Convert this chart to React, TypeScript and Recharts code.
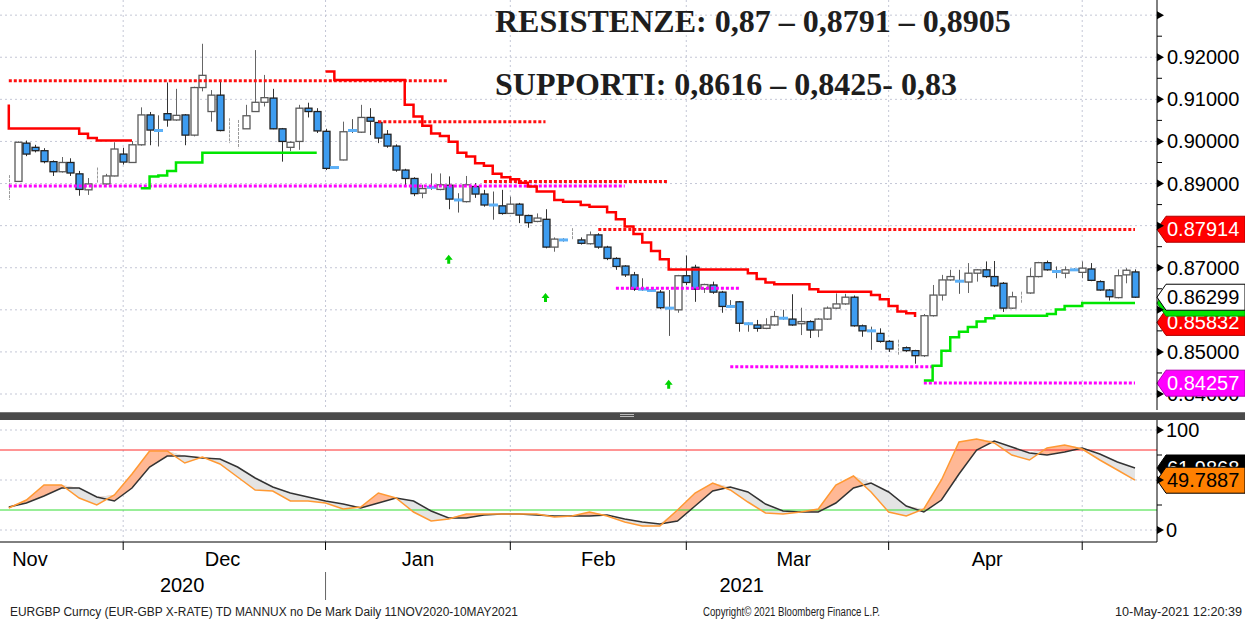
import React from 'react';
import {
  ComposedChart, Bar, Line, Area, Scatter, XAxis, YAxis,
  CartesianGrid, ReferenceLine,
} from 'recharts';

// EURGBP daily candles, one entry per trading day (index 0 = 11 Nov 2020)
const opens = [
  0.8893, 0.8905, 0.8996, 0.8986, 0.8978, 0.8952, 0.8928, 0.8950, 0.8923, 0.8885,
  0.8913, 0.8899, 0.8918, 0.8970, 0.8950, 0.8992, 0.9063, 0.9026, 0.9066, 0.9051,
  0.9063, 0.9015, 0.9128, 0.9071, 0.9110, 0.9030, 0.9020, 0.9030, 0.9071, 0.9093,
  0.9103, 0.9030, 0.8986, 0.9000, 0.9079, 0.9071, 0.9024, 0.8938, 0.8956, 0.9026,
  0.9022, 0.9057, 0.9045, 0.9017, 0.8989, 0.8932, 0.8912, 0.8877, 0.8891, 0.8886,
  0.8896, 0.8861, 0.8857, 0.8893, 0.8875, 0.8849, 0.8847, 0.8829, 0.8851, 0.8824,
  0.8810, 0.8815, 0.8749, 0.8766, 0.8768, 0.8766, 0.8757, 0.8778, 0.8749, 0.8722,
  0.8704, 0.8683, 0.8649, 0.8646, 0.8642, 0.8604, 0.8600, 0.8681, 0.8701, 0.8650,
  0.8659, 0.8642, 0.8608, 0.8619, 0.8567, 0.8564, 0.8556, 0.8564, 0.8580, 0.8578,
  0.8567, 0.8572, 0.8552, 0.8578, 0.8604, 0.8614, 0.8630, 0.8562, 0.8550, 0.8544,
  0.8525, 0.8510, 0.8510, 0.8503, 0.8491, 0.8586, 0.8635, 0.8671, 0.8668, 0.8666,
  0.8687, 0.8695, 0.8679, 0.8663, 0.8604, 0.8628, 0.8640, 0.8679, 0.8712, 0.8691,
  0.8687, 0.8695, 0.8689, 0.8697, 0.8667, 0.8647, 0.8629, 0.8683, 0.8690,
];
const highs = [
  0.8920, 0.9000, 0.9002, 0.8992, 0.8984, 0.8955, 0.8963, 0.8960, 0.8930, 0.8913,
  0.8938, 0.8923, 0.8998, 0.8985, 0.9001, 0.9081, 0.9070, 0.9062, 0.9140, 0.9125,
  0.9065, 0.9130, 0.9232, 0.9122, 0.9142, 0.9055, 0.9051, 0.9087, 0.9217, 0.9158,
  0.9125, 0.9032, 0.9000, 0.9087, 0.9092, 0.9079, 0.9030, 0.8940, 0.9047, 0.9053,
  0.9087, 0.9079, 0.9050, 0.9027, 0.8993, 0.8935, 0.8915, 0.8897, 0.8924, 0.8924,
  0.8917, 0.8877, 0.8918, 0.8901, 0.8885, 0.8881, 0.8885, 0.8869, 0.8854, 0.8826,
  0.8829, 0.8839, 0.8772, 0.8770, 0.8794, 0.8772, 0.8786, 0.8782, 0.8752, 0.8725,
  0.8706, 0.8690, 0.8675, 0.8654, 0.8647, 0.8647, 0.8683, 0.8729, 0.8707, 0.8662,
  0.8667, 0.8645, 0.8623, 0.8621, 0.8570, 0.8576, 0.8580, 0.8597, 0.8600, 0.8637,
  0.8605, 0.8575, 0.8580, 0.8608, 0.8639, 0.8638, 0.8634, 0.8565, 0.8560, 0.8556,
  0.8528, 0.8529, 0.8513, 0.8505, 0.8590, 0.8659, 0.8683, 0.8695, 0.8695, 0.8711,
  0.8697, 0.8715, 0.8716, 0.8666, 0.8643, 0.8643, 0.8699, 0.8714, 0.8717, 0.8703,
  0.8703, 0.8699, 0.8715, 0.8711, 0.8670, 0.8649, 0.8696, 0.8699, 0.8696,
];
const lows = [
  0.8861, 0.8905, 0.8965, 0.8974, 0.8948, 0.8918, 0.8926, 0.8918, 0.8871, 0.8873,
  0.8901, 0.8897, 0.8917, 0.8945, 0.8950, 0.8990, 0.8991, 0.8988, 0.9035, 0.9049,
  0.8991, 0.9012, 0.9119, 0.9047, 0.9024, 0.8996, 0.8984, 0.9030, 0.9071, 0.9083,
  0.9029, 0.8952, 0.8977, 0.8980, 0.9057, 0.9020, 0.8932, 0.8936, 0.8955, 0.9020,
  0.9020, 0.9015, 0.8996, 0.8985, 0.8928, 0.8894, 0.8870, 0.8865, 0.8885, 0.8884,
  0.8839, 0.8831, 0.8855, 0.8866, 0.8845, 0.8814, 0.8826, 0.8828, 0.8806, 0.8795,
  0.8808, 0.8746, 0.8738, 0.8762, 0.8766, 0.8755, 0.8755, 0.8745, 0.8718, 0.8695,
  0.8678, 0.8645, 0.8645, 0.8643, 0.8602, 0.8538, 0.8593, 0.8659, 0.8619, 0.8640,
  0.8638, 0.8593, 0.8605, 0.8548, 0.8548, 0.8548, 0.8554, 0.8562, 0.8576, 0.8562,
  0.8540, 0.8533, 0.8535, 0.8576, 0.8602, 0.8612, 0.8560, 0.8536, 0.8505, 0.8522,
  0.8500, 0.8493, 0.8500, 0.8472, 0.8488, 0.8584, 0.8622, 0.8669, 0.8638, 0.8640,
  0.8667, 0.8676, 0.8654, 0.8595, 0.8602, 0.8616, 0.8638, 0.8677, 0.8693, 0.8675,
  0.8675, 0.8693, 0.8675, 0.8668, 0.8645, 0.8622, 0.8627, 0.8663, 0.8628,
];
const closes = [
  0.8894, 0.8998, 0.8970, 0.8978, 0.8952, 0.8928, 0.8950, 0.8925, 0.8886, 0.8899,
  0.8914, 0.8918, 0.8982, 0.8951, 0.8992, 0.9063, 0.9027, 0.9026, 0.9051, 0.9062,
  0.9015, 0.9128, 0.9157, 0.9110, 0.9026, 0.9031, 0.9021, 0.9061, 0.9093, 0.9104,
  0.9030, 0.9000, 0.8998, 0.9079, 0.9071, 0.9025, 0.8936, 0.8938, 0.9023, 0.9026,
  0.9057, 0.9048, 0.9008, 0.8989, 0.8932, 0.8912, 0.8876, 0.8888, 0.8891, 0.8897,
  0.8863, 0.8861, 0.8897, 0.8875, 0.8849, 0.8849, 0.8829, 0.8851, 0.8825, 0.8807,
  0.8818, 0.8749, 0.8768, 0.8766, 0.8769, 0.8758, 0.8778, 0.8749, 0.8722, 0.8703,
  0.8683, 0.8649, 0.8649, 0.8646, 0.8605, 0.8604, 0.8681, 0.8665, 0.8649, 0.8660,
  0.8642, 0.8608, 0.8608, 0.8568, 0.8567, 0.8556, 0.8564, 0.8584, 0.8580, 0.8564,
  0.8572, 0.8552, 0.8578, 0.8604, 0.8614, 0.8630, 0.8562, 0.8550, 0.8550, 0.8525,
  0.8507, 0.8511, 0.8503, 0.8491, 0.8586, 0.8635, 0.8671, 0.8679, 0.8668, 0.8687,
  0.8695, 0.8679, 0.8657, 0.8604, 0.8631, 0.8629, 0.8679, 0.8712, 0.8695, 0.8691,
  0.8695, 0.8695, 0.8699, 0.8670, 0.8647, 0.8631, 0.8681, 0.8694, 0.8630,
];

// trailing stop lines: [day, level] change points, null breaks the line
const redSteps: [number, number | null][] = [
  [0, 0.9088], [0, 0.9031], [8, 0.9018], [9, 0.9008], [10, 0.9002], [14, 0.9002], [25, null],
  [36, 0.9166], [37, 0.9146], [45, 0.9087], [46, 0.9059], [47, 0.9037], [48, 0.9019],
  [49, 0.9013], [50, 0.8999], [51, 0.8973], [52, 0.8964], [53, 0.8948], [54, 0.8942],
  [55, 0.8923], [56, 0.8915], [57, 0.8910], [58, 0.8902], [59, 0.8893], [60, 0.8881],
  [62, 0.8861], [63, 0.8857], [65, 0.8849], [66, 0.8845], [68, 0.8832], [69, 0.8815],
  [70, 0.8798], [71, 0.8780], [72, 0.8760], [73, 0.8740], [74, 0.8720], [75, 0.8696],
  [84, 0.8687], [85, 0.8673], [86, 0.8665], [87, 0.8661], [91, 0.8649], [92, 0.8643],
  [98, 0.8635], [99, 0.8625], [100, 0.8609], [101, 0.8596], [102, 0.8592], [103, 0.8583],
];
const greenSteps: [number, number | null][] = [
  [15, 0.8889], [16, 0.8917], [17, 0.8919], [18, 0.8930], [19, 0.8950], [22, 0.8973],
  [35, 0.8973], [60, null],
  [104, 0.8432], [105, 0.8467], [106, 0.8503], [107, 0.8535], [108, 0.8548], [109, 0.8559],
  [110, 0.8572], [111, 0.8580], [112, 0.8586], [118, 0.8590], [119, 0.8601], [120, 0.8609],
  [122, 0.8616], [128, 0.8616],
];

// dotted levels: [fromDay, toDay, level]
const resistLevels = [[0, 50, 0.9144], [42, 61, 0.9047], [54, 75, 0.8905], [67, 128, 0.8791]];
const supportLevels = [[0, 70, 0.8894], [69, 83, 0.8651], [82, 105, 0.8465], [104, 128, 0.8426]];

// buy signal arrows [day, level]
const arrowPoints = [[50, 0.8719], [61, 0.8628], [75, 0.8422]];

// slow stochastic, read every second day
const stochDays = Array.from({ length: 65 }, (_, n) => n * 2);
const stochK = [
  22, 30, 45, 45, 32, 25, 35, 56, 79, 79, 67, 73, 66, 53, 40, 39, 29, 29, 27, 21,
  23, 37, 32, 18, 9, 11, 16, 16, 16, 16, 16, 13, 14, 18, 14, 8, 4, 4, 20, 37,
  47, 40, 28, 17, 16, 18, 21, 45, 54, 38, 18, 14, 21, 50, 88, 91, 87, 75, 70, 82,
  85, 81, 70, 60, 49.79,
];
const stochD = [
  23, 27, 34, 42, 42, 33, 29, 42, 63, 74, 74, 72, 71, 63, 52, 43, 37, 33, 29, 26,
  22, 27, 32, 29, 19, 12, 12, 15, 16, 16, 15, 14, 14, 14, 15, 11, 8, 6, 9, 24,
  39, 43, 38, 26, 19, 18, 18, 27, 42, 47, 38, 24, 18, 30, 56, 80, 89, 83, 77, 75,
  78, 82, 76, 68, 62,
];

const priceTicks = [
  0.84, 0.845, 0.85, 0.855, 0.86, 0.865, 0.87, 0.875, 0.88, 0.885,
  0.89, 0.895, 0.9, 0.905, 0.91, 0.915, 0.92, 0.925, 0.93,
];
const priceGrid = [0.84, 0.85, 0.86, 0.87, 0.88, 0.89, 0.9, 0.91, 0.92, 0.93];
const hiddenPriceLabels = [0.86, 0.88, 0.93];
const stochTicks = [0, 25, 50, 75, 100];
const stochLabels = [0, 100];

const monthTicks = [13, 36, 57, 77, 100, 122];
const monthNames = ['Nov', 'Dec', 'Jan', 'Feb', 'Mar', 'Apr'];
const monthLabelAt = [2.4, 24.3, 46.5, 67, 89.2, 111.2];
const yearNames = ['2020', '2021'];
const yearLabelAt = [19.7, 83.3];
const yearSplit = 36;

const X_DOMAIN: [number, number] = [-1, 130.5];
const GRID = '#c4c7d6';
const FONT = '"Liberation Sans", Arial, sans-serif';

const candleRows = opens.map((o, i) => ({ i, o, h: highs[i], l: lows[i], c: closes[i] }));
const redRows = redSteps.map(([i, v]) => ({ i, v }));
const greenRows = greenSteps.map(([i, v]) => ({ i, v }));
const arrowRows = arrowPoints.map(([i, v]) => ({ i, v }));
const stochRows = stochDays.map((i, n) => {
  const k = stochK[n];
  const d = stochD[n];
  return { i, k, d, above: [d, Math.max(k, d)], below: [k, Math.max(k, d)] };
});

function Candle(props: any) {
  const { x, y, width, height, payload } = props;
  const { o, h, l, c } = payload;
  const top = Math.min(y, y + height);
  const bot = Math.max(y, y + height);
  const span = h - l;
  const py = (v: number) => (span > 0 ? top + ((h - v) / span) * (bot - top) : top);
  const cx = Math.round(x + width / 2) + 0.5;
  if (o === c) {
    return (
      <g>
        <line x1={cx} x2={cx} y1={top} y2={bot} stroke="#555" />
        <rect x={cx - 4.5} y={py(o) - 1.5} width={9} height={3} fill="#5cb0f7" />
      </g>
    );
  }
  const bTop = py(Math.max(o, c));
  const bBot = py(Math.min(o, c));
  if (bBot - bTop < 1) {
    return <line x1={cx} x2={cx} y1={top} y2={bot} stroke="#999" strokeDasharray="3 1" />;
  }
  const up = c > o;
  return (
    <g>
      <line x1={cx} x2={cx} y1={top} y2={bot} stroke={up ? '#666' : '#333'} />
      <rect x={cx - 3.5} y={bTop} width={7} height={bBot - bTop}
        fill={up ? '#fff' : '#3d9cf0'} stroke={up ? '#5a5a5a' : '#222'} strokeWidth={1.3} />
    </g>
  );
}

function UpArrow({ cx, cy }: any) {
  return (
    <path d={`M${cx},${cy - 5}L${cx + 4},${cy}L${cx + 1.5},${cy}L${cx + 1.5},${cy + 4}L${cx - 1.5},${cy + 4}L${cx - 1.5},${cy}L${cx - 4},${cy}Z`}
      fill="#00d400" />
  );
}

function PriceTick({ x, y, payload }: any) {
  const v = payload.value as number;
  const major = Math.abs(v * 100 - Math.round(v * 100)) < 1e-6;
  if (!major) return <line x1={x} x2={x + 5} y1={y} y2={y} stroke="#000" />;
  const hidden = hiddenPriceLabels.some((h) => Math.abs(h - v) < 1e-6);
  // the lowest label sits under the magenta tag: only its lower edge shows
  const lowest = Math.abs(v - priceTicks[0]) < 1e-6;
  return (
    <g>
      {lowest && (
        <defs>
          <clipPath id="lowestPrice"><rect x={x} y={y + 2.5} width={90} height={20} /></clipPath>
        </defs>
      )}
      <path d={`M${x},${y - 4}L${x + 7},${y}L${x},${y + 4}Z`} fill="#000" />
      {!hidden && (
        <text x={x + 10} y={y + 7} fontSize={20} fill="#000" clipPath={lowest ? 'url(#lowestPrice)' : undefined}>
          {v.toFixed(5)}
        </text>
      )}
    </g>
  );
}

function StochTick({ x, y, payload }: any) {
  const v = payload.value as number;
  if (v % 50 !== 0) return <line x1={x} x2={x + 5} y1={y} y2={y} stroke="#000" />;
  return (
    <g>
      <path d={`M${x},${y - 4}L${x + 7},${y}L${x},${y + 4}Z`} fill="#000" />
      {stochLabels.includes(v) && <text x={x + 9} y={y + 7} fontSize={20} fill="#000">{v}</text>}
    </g>
  );
}

function DateTick({ x, y, payload }: any) {
  const v = payload.value as number;
  const m = monthLabelAt.indexOf(v);
  if (m >= 0) {
    return <text x={x} y={y + 24} textAnchor="middle" fontSize={20} fill="#000">{monthNames[m]}</text>;
  }
  const yr = yearLabelAt.indexOf(v);
  if (yr >= 0) {
    return <text x={x} y={y + 50} textAnchor="middle" fontSize={20} fill="#000">{yearNames[yr]}</text>;
  }
  return (
    <g>
      <line x1={x} x2={x} y1={y} y2={y + 8} stroke="#000" />
      {v === yearSplit && <line x1={x} x2={x} y1={y + 30} y2={y + 58} stroke="#666" />}
    </g>
  );
}

function tag(text: string, fill: string, color: string, stroke = 'none', dy = 0) {
  return (p: any) => {
    const vb = p.viewBox || {};
    const x = (vb.x ?? 0) + (vb.width ?? 0);
    const cy = (vb.y ?? 0) + (vb.height ?? 0) / 2 + dy;
    return (
      <g>
        <path d={`M${x},${cy}L${x + 9},${cy - 13}H${x + 88}V${cy + 13}H${x + 9}Z`} fill={fill} stroke={stroke} />
        {text && <text x={x + 10} y={cy + 7} fontSize={20} fill={color}>{text}</text>}
      </g>
    );
  };
}

export default function App() {
  const dateTicks = [...monthTicks, ...monthLabelAt, ...yearLabelAt].sort((a, b) => a - b);
  return (
    <div style={{ position: 'absolute', left: 0, top: 0, width: 1245, height: 623, background: '#fff', fontFamily: FONT, overflow: 'hidden' }}>
      <div style={{ position: 'absolute', left: 0, top: 0 }}>
        <ComposedChart width={1245} height={410} data={candleRows} margin={{ top: 0, right: 0, bottom: 0, left: 0 }}>
          <CartesianGrid horizontalValues={priceGrid} verticalValues={monthTicks} stroke={GRID} strokeDasharray="2 3" />
          <XAxis dataKey="i" type="number" domain={X_DOMAIN} hide allowDataOverflow />
          <YAxis orientation="right" width={88} type="number" domain={[0.8362, 0.9336]} allowDataOverflow
            ticks={priceTicks} interval={0} tickSize={0} tickMargin={0} tickLine={false}
            axisLine={{ stroke: '#000' }} tick={(p: any) => <PriceTick {...p} />} />
          <Bar dataKey={(d: any) => [d.l, d.h]} barSize={7} shape={(p: any) => <Candle {...p} />} isAnimationActive={false} />
          {resistLevels.map(([a, b, v], n) => (
            <ReferenceLine key={`r${n}`} segment={[{ x: a, y: v }, { x: b, y: v }]} stroke="#ff1010" strokeWidth={3} strokeDasharray="3 2" />
          ))}
          {supportLevels.map(([a, b, v], n) => (
            <ReferenceLine key={`s${n}`} segment={[{ x: a, y: v }, { x: b, y: v }]} stroke="#ff00ff" strokeWidth={3} strokeDasharray="3 2" />
          ))}
          <Line data={redRows} dataKey="v" type="stepAfter" stroke="#ff0000" strokeWidth={2.5} dot={false} activeDot={false} connectNulls={false} isAnimationActive={false} />
          <Line data={greenRows} dataKey="v" type="stepAfter" stroke="#00e600" strokeWidth={2.5} dot={false} activeDot={false} connectNulls={false} isAnimationActive={false} />
          <Scatter data={arrowRows} dataKey="v" shape={(p: any) => <UpArrow {...p} />} isAnimationActive={false} />
          <ReferenceLine y={0.87914} stroke="none" label={tag('0.87914', '#ff0000', '#fff', '#b00000')} />
          <ReferenceLine y={0.85832} stroke="none" label={tag('0.85832', '#ff0000', '#fff', '#b00000', 5.5)} />
          <ReferenceLine y={0.8616} stroke="none" label={tag('', '#00e600', '#000', '#00a000')} />
          <ReferenceLine y={0.86299} stroke="none" label={tag('0.86299', '#fff', '#000', '#000')} />
          <ReferenceLine y={0.84257} stroke="none" label={tag('0.84257', '#ff00ff', '#fff', '#b000b0')} />
        </ComposedChart>
      </div>

      <div style={{ position: 'absolute', left: 0, top: 412, width: 1245, height: 7, background: '#4a4a4a', borderTop: '1px solid #777' }} />
      <div style={{ position: 'absolute', left: 620, top: 414, width: 14, height: 1, background: '#bbb', boxShadow: '0 2px 0 #bbb' }} />

      <div style={{ position: 'absolute', left: 0, top: 420 }}>
        <ComposedChart width={1245} height={190} data={stochRows} margin={{ top: 0, right: 0, bottom: 0, left: 0 }}>
          <CartesianGrid horizontalValues={[0, 50, 100]} verticalValues={monthTicks} stroke={GRID} strokeDasharray="2 3" />
          <XAxis dataKey="i" type="number" domain={X_DOMAIN} allowDataOverflow height={68}
            ticks={dateTicks} interval={0} tickSize={0} tickMargin={0} tickLine={false}
            axisLine={{ stroke: '#000' }} tick={(p: any) => <DateTick {...p} />} />
          <YAxis orientation="right" width={88} type="number" domain={[-12, 110]} allowDataOverflow
            ticks={stochTicks} interval={0} tickSize={0} tickMargin={0} tickLine={false}
            axisLine={{ stroke: '#000' }} tick={(p: any) => <StochTick {...p} />} />
          <Area dataKey="above" type="linear" stroke="none" fill="#ffb08a" fillOpacity={0.9} isAnimationActive={false} />
          <Area dataKey="below" type="linear" stroke="none" fill="#e4e4e4" fillOpacity={1} isAnimationActive={false} />
          <ReferenceLine y={80} stroke="#ff2a2a" />
          <ReferenceLine y={20} stroke="#33dd33" />
          <Line dataKey="d" type="linear" stroke="#333" strokeWidth={1.5} dot={false} activeDot={false} isAnimationActive={false} />
          <Line dataKey="k" type="linear" stroke="#ff9933" strokeWidth={1.5} dot={false} activeDot={false} isAnimationActive={false} />
          <ReferenceLine y={62} stroke="none" label={tag('61.9868', '#000', '#fff', '#000')} />
          <ReferenceLine y={49.7887} stroke="none" label={tag('49.7887', '#ff8000', '#000', '#000')} />
        </ComposedChart>
      </div>

      <div style={{ position: 'absolute', left: 495, top: 5, font: 'bold 32px "Liberation Serif", "Times New Roman", serif', lineHeight: '32px', color: '#1e1e1e', whiteSpace: 'nowrap' }}>
        RESISTENZE: 0,87 – 0,8791 – 0,8905
      </div>
      <div style={{ position: 'absolute', left: 495, top: 68, font: 'bold 32px "Liberation Serif", "Times New Roman", serif', lineHeight: '32px', color: '#1e1e1e', whiteSpace: 'nowrap' }}>
        SUPPORTI: 0,8616 – 0,8425- 0,83
      </div>

      <svg width={1245} height={22} style={{ position: 'absolute', left: 0, top: 600 }}>
        <text x={10} y={16} fontSize={12} fill="#222" textLength={508} lengthAdjust="spacingAndGlyphs">
          EURGBP Curncy (EUR-GBP X-RATE) TD MANNUX no De Mark  Daily 11NOV2020-10MAY2021
        </text>
        <text x={703} y={16} fontSize={12} fill="#222" textLength={177} lengthAdjust="spacingAndGlyphs">
          Copyright© 2021 Bloomberg Finance L.P.
        </text>
        <text x={1115} y={16} fontSize={12} fill="#222" textLength={127} lengthAdjust="spacingAndGlyphs">
          10-May-2021 12:20:39
        </text>
      </svg>
    </div>
  );
}
